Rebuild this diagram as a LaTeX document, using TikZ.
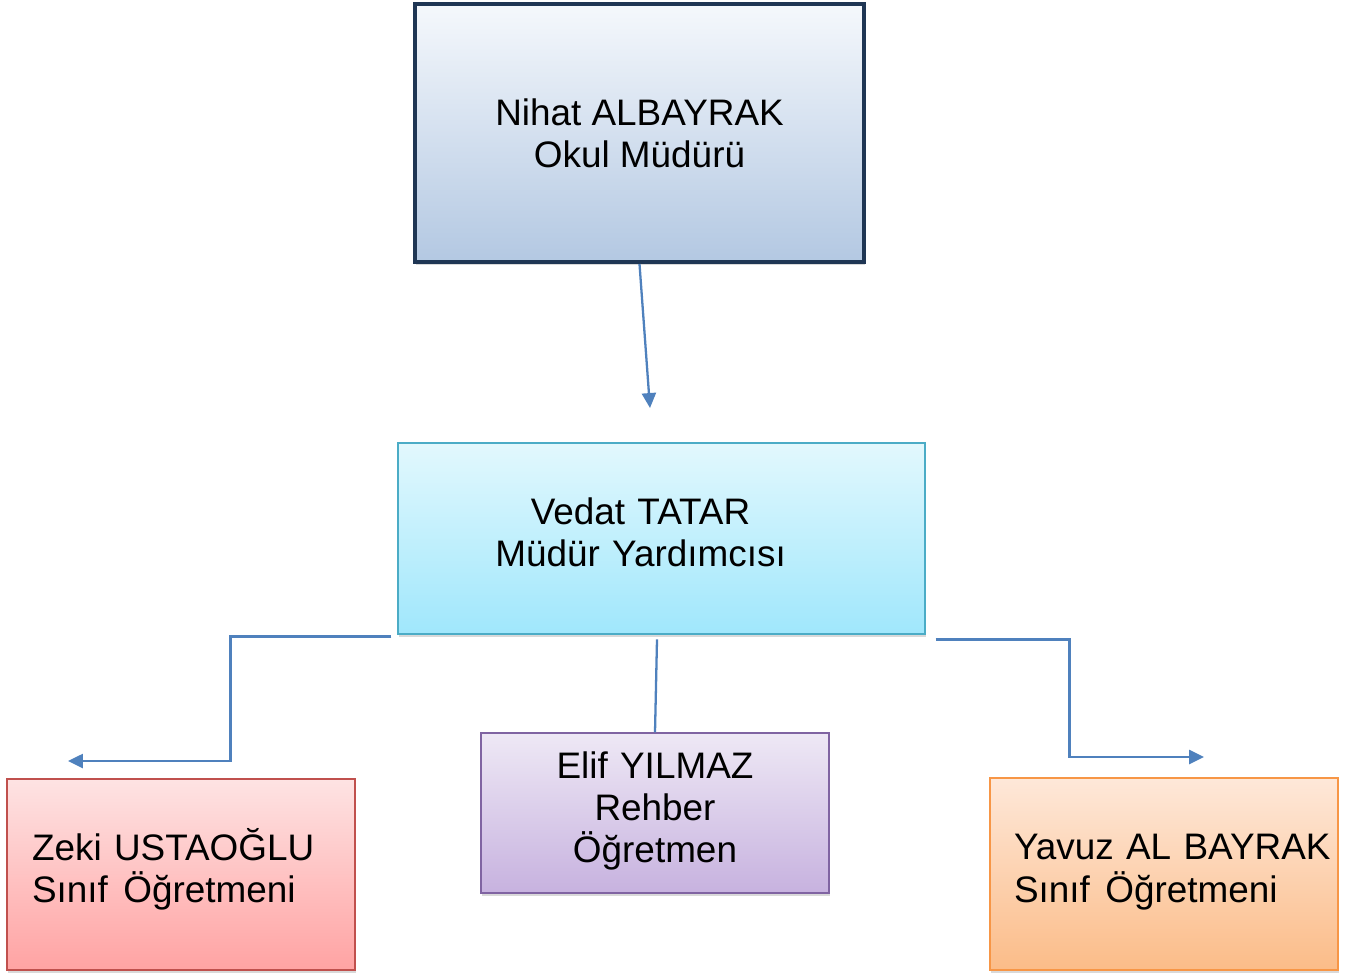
\documentclass[tikz,border=0pt]{standalone}
\usepackage{fontspec}
\setmainfont{Liberation Sans}
\usetikzlibrary{arrows.meta, shadows}

\definecolor{edgeblue}{HTML}{4F81BD}
\definecolor{navyline}{HTML}{1F3654}
\definecolor{navytop}{HTML}{F5F8FC}
\definecolor{navybot}{HTML}{B3C8E2}
\definecolor{aqualine}{HTML}{4BACC6}
\definecolor{aquatop}{HTML}{E2F8FD}
\definecolor{aquabot}{HTML}{A0E7FC}
\definecolor{redline}{HTML}{C0504D}
\definecolor{redtop}{HTML}{FEE3E3}
\definecolor{redbot}{HTML}{FFA3A3}
\definecolor{violetline}{HTML}{8064A2}
\definecolor{violettop}{HTML}{EEE8F5}
\definecolor{violetbot}{HTML}{C7B2DF}
\definecolor{orangeline}{HTML}{F79646}
\definecolor{orangetop}{HTML}{FEE8D9}
\definecolor{orangebot}{HTML}{FBBC88}

\begin{document}
\begin{tikzpicture}[x=0.02cm, y=-0.02cm]

\tikzset{box/.style = {shape=rectangle, draw, line width=0.7pt, inner sep=0pt, align=center, font=\fontsize{21}{24}\selectfont, drop shadow={shadow xshift=0.4pt, shadow yshift=-1.8pt, opacity=0.3}}}
\tikzset{edge/.style = {draw=edgeblue, line width=1.3pt, -{Triangle[length=8.5pt, width=8pt]}}}
\useasboundingbox (0,0) rectangle (1348,975);
% vertices
\node[box, line width=2.3pt, draw=navyline, top color=navytop, bottom color=navybot, minimum width=8.98cm, minimum height=5.16cm] (1) at (639.5,133) {Nihat ALBAYRAK\\Okul Müdürü};
\node[box, draw=aqualine, top color=aquatop, bottom color=aquabot, minimum width=10.54cm, minimum height=3.82cm, text width=9.5cm, text depth=31pt] (2) at (661.5,538.5) {\hspace*{-0.84cm}Vedat TATAR\\\hspace*{-0.84cm}Müdür Yardımcısı};
\node[box, draw=redline, top color=redtop, bottom color=redbot, minimum width=6.96cm, minimum height=3.82cm, text width=5.96cm, align=left, text depth=34pt] (3) at (181,874.5) {Zeki USTAOĞLU\\Sınıf\hspace{0.42em}Öğretmeni};
\node[box, draw=violetline, top color=violettop, bottom color=violetbot, minimum width=6.96cm, minimum height=3.2cm, text width=6cm, text depth=55pt] (4) at (655,813) {Elif YILMAZ\\Rehber\\Öğretmen};
\node[box, draw=orangeline, top color=orangetop, bottom color=orangebot, minimum width=6.96cm, minimum height=3.84cm, text width=6.0cm, align=left, text depth=30.5pt] (5) at (1164,874) {\mbox{Yavuz AL BAYRAK}\\Sınıf\hspace{0.42em}Öğretmeni};
% free ends
\coordinate (a) at (650,408);
\coordinate (b) at ([shift={(-6,2)}]2.south west);
\coordinate (c) at (68,761);
\coordinate (d) at ([shift={(10,5)}]2.south east);
\coordinate (e) at (1204,757);
%edges
\draw [edge] (1.south) -- (a);
\draw [edge] (b) -- ++(-161,0) |- (c);
\draw [edge] (d) -- ++(134,0) |- (e);
\draw [edge, -] (4.north) -- ++(2,-93);
\end{tikzpicture}
\end{document}
